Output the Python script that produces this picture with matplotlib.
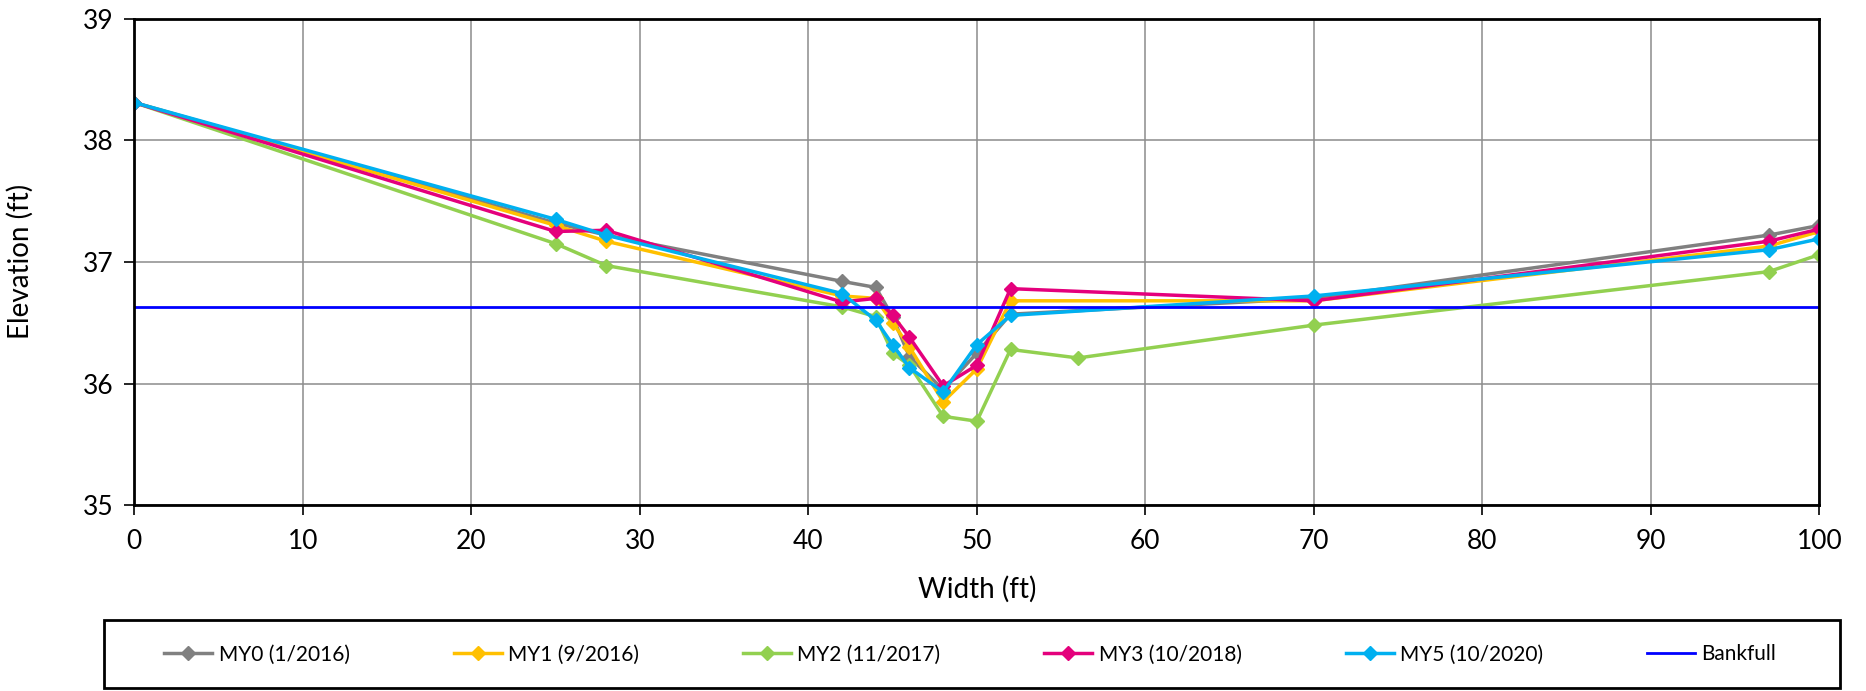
import numpy as np
import matplotlib.pyplot as plt
from matplotlib.patches import Rectangle

# station widths (ft)
width = [0, 25, 28, 42, 44, 45, 46, 48, 50, 52, 70, 97, 100]
width_my2 = [0, 25, 28, 42, 44, 45, 46, 48, 50, 52, 56, 70, 97, 100]

# elevations (ft)
my0 = [38.31, 37.32, 37.22, 36.84, 36.79, 36.55, 36.22, 35.95, 36.25, 36.57, 36.70, 37.22, 37.30]
my1 = [38.31, 37.30, 37.17, 36.72, 36.70, 36.50, 36.30, 35.85, 36.12, 36.68, 36.68, 37.13, 37.25]
my2 = [38.31, 37.15, 36.97, 36.63, 36.55, 36.25, 36.15, 35.73, 35.69, 36.28, 36.21, 36.48, 36.92, 37.06]
my3 = [38.31, 37.25, 37.26, 36.67, 36.70, 36.56, 36.38, 35.98, 36.15, 36.78, 36.68, 37.17, 37.27]
my5 = [38.31, 37.35, 37.22, 36.74, 36.52, 36.32, 36.13, 35.93, 36.32, 36.56, 36.72, 37.10, 37.19]
bankfull = 36.63

labels = ["MY0 (1/2016)", "MY1 (9/2016)", "MY2 (11/2017)", "MY3 (10/2018)", "MY5 (10/2020)", "Bankfull"]
colors = ["#808080", "#FFC000", "#92D050", "#E4007C", "#00B0F0", "#0000FF"]

plt.rcParams['font.family'] = ['Lato', 'DejaVu Sans']

fig = plt.figure(figsize=(18.66, 6.91), dpi=100)
ax = fig.add_axes([0.072, 0.269, 0.903, 0.704])

series = [(width, my0), (width, my1), (width_my2, my2), (width, my3), (width, my5)]
for (xs, ys), lab, col in zip(series, labels[:5], colors[:5]):
    ax.plot(xs, ys, color=col, lw=2.5, marker='D', ms=7, label=lab)

ax.plot([0, 100], [bankfull, bankfull], color=colors[5], lw=2, label=labels[5])

ax.set_xlim(0, 100)
ax.set_ylim(35, 39)
ax.set_xticks(np.arange(0, 101, 10))
ax.set_yticks(np.arange(35, 39.1, 1))
ax.grid(True, color='#8c8c8c', lw=1.1)
ax.set_axisbelow(True)
for s in ax.spines.values():
    s.set_color('black')
    s.set_linewidth(2)
ax.tick_params(labelsize=19, direction='out', length=7, color='black', width=1.2)
ax.tick_params(axis='x', pad=10)
ax.tick_params(axis='y', pad=8)
ax.set_xlabel("Width (ft)", fontsize=20)
ax.set_ylabel("Elevation (ft)", fontsize=20)
ax.xaxis.set_label_coords(0.5, -0.145)
ax.yaxis.set_label_coords(-0.06, 0.5)

# legend box below the plot
fig.patches.append(Rectangle((0.056, 0.004), 0.93, 0.099, transform=fig.transFigure,
                             fill=False, edgecolor='black', lw=2))
fig.legend(loc='center', bbox_to_anchor=(0.52, 0.053), ncol=6, fontsize=15,
           frameon=False, handlelength=2.3, handletextpad=0.3, columnspacing=5.0)

fig.savefig("out.png", dpi=100)
